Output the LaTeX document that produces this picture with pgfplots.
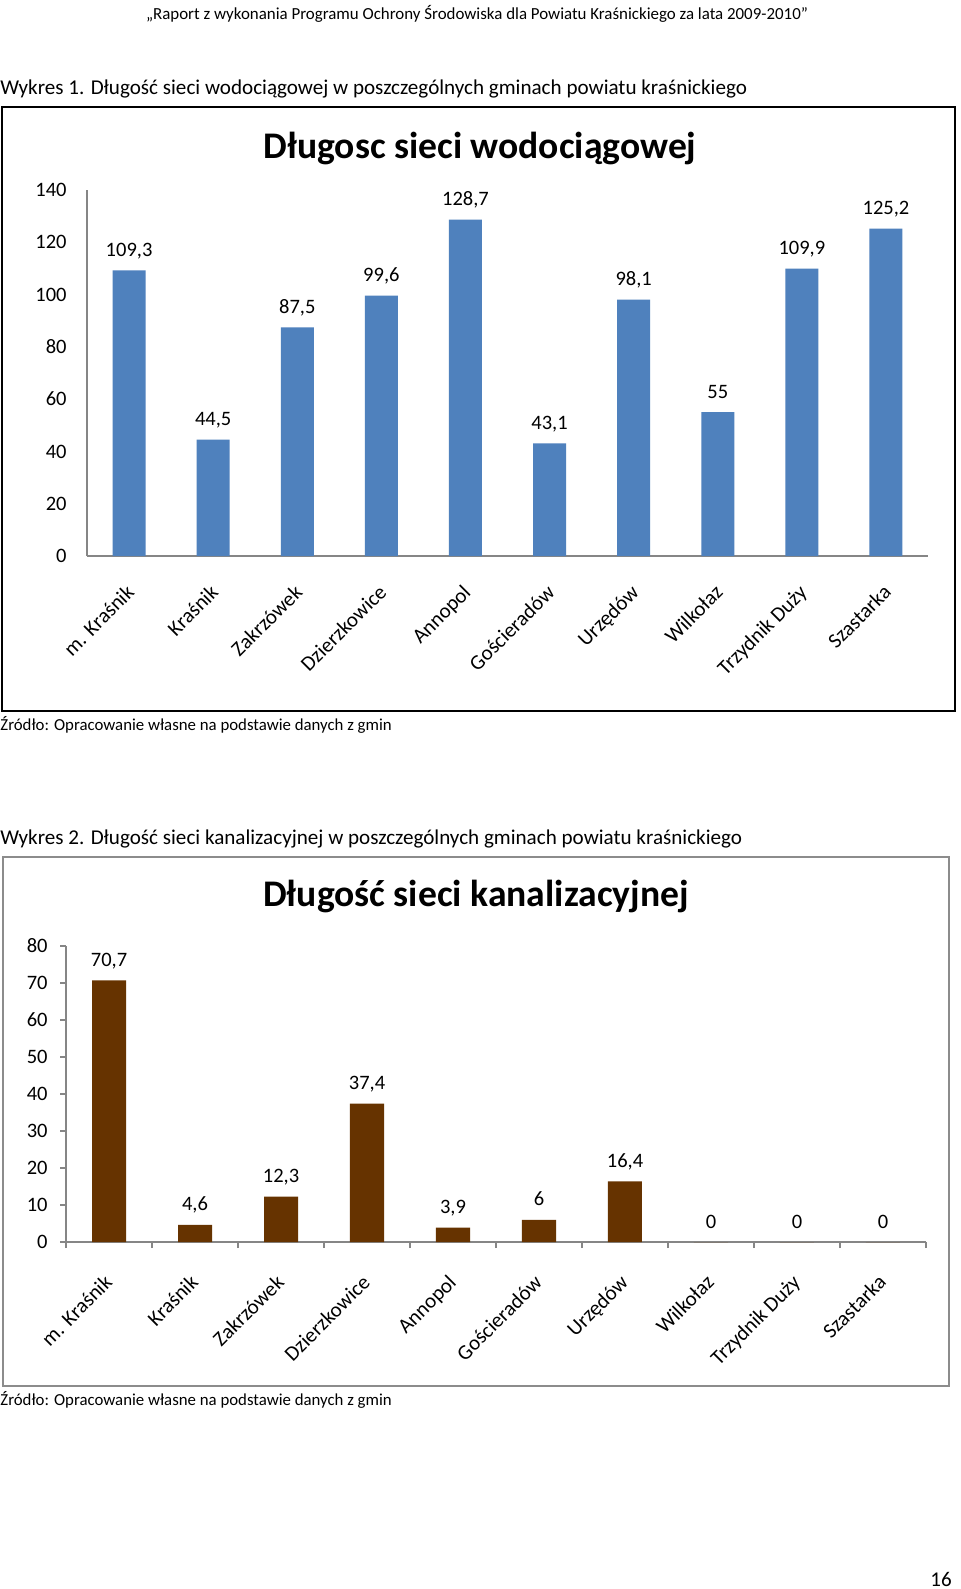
\documentclass[border=0pt]{standalone}
\usepackage{fontspec}
\setmainfont{Carlito}
\usepackage{pgfplots}
\pgfplotsset{compat=1.18}

\definecolor{wodblue}{HTML}{4F81BD}
\definecolor{kanbrown}{HTML}{663300}
\definecolor{axgray}{HTML}{868686}
\definecolor{framegray}{HTML}{8C8C8C}

% wspolne ustawienia obu wykresow (1 px obrazka = 0.5 pt)
\pgfplotsset{
  gminy/.style={
    scale only axis,
    ybar,
    clip=false,
    xmin=-0.5, xmax=9.5,
    xtick={0,...,9},
    xticklabels={m. Kraśnik, Kraśnik, Zakrzówek, Dzierzkowice, Annopol,
                 Gościeradów, Urzędów, Wilkołaz, Trzydnik Duży, Szastarka},
    axis x line=bottom, axis y line=left,
    axis line style={-, draw=axgray, line width=0.6pt},
    tick style={draw=axgray, line width=0.6pt},
    /pgf/number format/assume math mode=true,
    /pgf/number format/use comma,
    ticklabel style={font=\fontsize{10.25}{12}\selectfont},
    yticklabel style={inner sep=0pt},
    nodes near coords,
    nodes near coords style={font=\fontsize{10.25}{12}\selectfont,
                             anchor=base, inner sep=0pt, yshift=7pt},
  },
}

\begin{document}
\begin{tikzpicture}
\useasboundingbox (0,0) rectangle (480pt,-794.5pt);
\fill[white] (0,0) rectangle (480pt,-794.5pt);

% naglowek strony
\node[font=\fontsize{8.45}{10}\selectfont] at (238.5pt,-7pt)
  {„Raport z wykonania Programu Ochrony Środowiska dla Powiatu Kraśnickiego za lata 2009-2010”};

% ---- Wykres 1 ----
\node[anchor=west, inner sep=0pt, font=\fontsize{10.55}{12}\selectfont] at (0pt,-44.5pt)
  {Wykres 1. Długość sieci wodociągowej w poszczególnych gminach powiatu kraśnickiego};
\draw[line width=0.9pt] (1pt,-53.5pt) rectangle (477.5pt,-355.5pt);
\node[font=\fontsize{18.8}{22}\selectfont\bfseries] at (240pt,-74pt)
  {Długosc sieci wodociągowej};

\begin{axis}[
  gminy,
  at={(43.5pt,-278pt)}, anchor=south west,
  width=420.5pt, height=183pt,
  ymin=0, ymax=140, ytick={0,20,...,140},
  major tick length=0pt,
  yticklabel style={xshift=-10pt},
  xticklabel style={xshift=-2pt, yshift=-13.5pt, rotate=45, anchor=north east,
                    inner sep=0pt, font=\fontsize{10.5}{12}\selectfont},
]
\addplot[fill=wodblue, draw=none, bar width=16.5pt] coordinates {
  (0,109.3) (1,44.5) (2,87.5) (3,99.6) (4,128.7)
  (5,43.1) (6,98.1) (7,55) (8,109.9) (9,125.2)
};
\end{axis}

\node[anchor=west, inner sep=0pt, font=\fontsize{8.4}{10}\selectfont] at (0pt,-362.5pt)
  {Źródło: Opracowanie własne na podstawie danych z gmin};

% ---- Wykres 2 ----
\node[anchor=west, inner sep=0pt, font=\fontsize{10.55}{12}\selectfont] at (0pt,-419.5pt)
  {Wykres 2. Długość sieci kanalizacyjnej w poszczególnych gminach powiatu kraśnickiego};
\draw[framegray, line width=0.9pt] (1.5pt,-428.5pt) rectangle (474.5pt,-693pt);
\node[font=\fontsize{18.8}{22}\selectfont\bfseries] at (238pt,-448pt)
  {Długość sieci kanalizacyjnej};

\begin{axis}[
  gminy,
  at={(33pt,-621pt)}, anchor=south west,
  width=430pt, height=148pt,
  ymin=0, ymax=80, ytick={0,10,...,80},
  tick align=outside,
  major tick length=3pt, minor tick length=3pt,
  major x tick style={draw=none},
  minor xtick={-0.5,0.5,...,9.5},
  yticklabel style={xshift=-6pt},
  xticklabel style={xshift=-3pt, yshift=-12.5pt, rotate=45, anchor=north east,
                    inner sep=0pt, font=\fontsize{10.5}{12}\selectfont},
]
\addplot[fill=kanbrown, draw=none, bar width=17pt] coordinates {
  (0,70.7) (1,4.6) (2,12.3) (3,37.4) (4,3.9)
  (5,6) (6,16.4) (7,0) (8,0) (9,0)
};
\end{axis}

\node[anchor=west, inner sep=0pt, font=\fontsize{8.4}{10}\selectfont] at (0pt,-700pt)
  {Źródło: Opracowanie własne na podstawie danych z gmin};

% numer strony
\node[font=\fontsize{10.5}{12}\selectfont] at (470.5pt,-789.5pt) {16};
\end{tikzpicture}
\end{document}
